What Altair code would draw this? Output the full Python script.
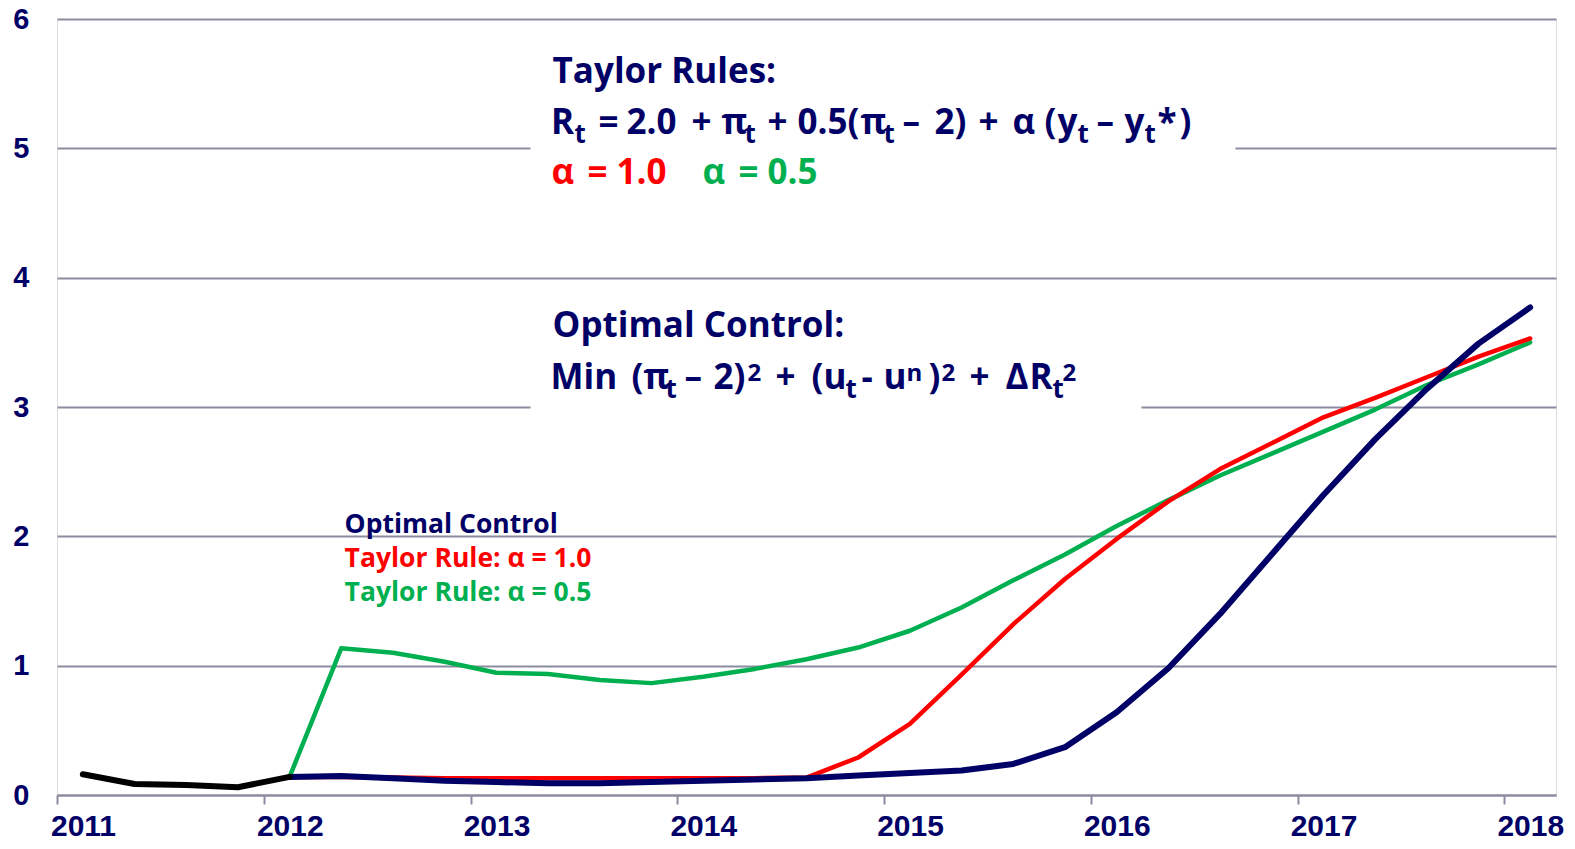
import altair as alt
import pandas as pd

# ---------------- data ----------------
quarters_hist = ["2011Q1", "2011Q2", "2011Q3", "2011Q4", "2012Q1"]
hist = [0.16, 0.085, 0.077, 0.06, 0.14]

quarters_fc = ["2012Q1", "2012Q2", "2012Q3", "2012Q4",
               "2013Q1", "2013Q2", "2013Q3", "2013Q4",
               "2014Q1", "2014Q2", "2014Q3", "2014Q4",
               "2015Q1", "2015Q2", "2015Q3", "2015Q4",
               "2016Q1", "2016Q2", "2016Q3", "2016Q4",
               "2017Q1", "2017Q2", "2017Q3", "2017Q4",
               "2018Q1"]
optimal = [0.14, 0.147, 0.13, 0.11,
           0.10, 0.09, 0.09, 0.10,
           0.11, 0.12, 0.13, 0.15,
           0.17, 0.19, 0.24, 0.37,
           0.64, 0.98, 1.40, 1.86,
           2.32, 2.75, 3.14, 3.49,
           3.77]
taylor_10 = [0.14, 0.14, 0.135, 0.13,
             0.13, 0.13, 0.13, 0.13,
             0.13, 0.13, 0.135, 0.29,
             0.55, 0.93, 1.32, 1.67,
             1.98, 2.27, 2.52, 2.72,
             2.92, 3.07, 3.23, 3.39,
             3.53]
taylor_05 = [0.14, 1.135, 1.10, 1.03,
             0.945, 0.935, 0.89, 0.865,
             0.915, 0.975, 1.05, 1.14,
             1.27, 1.45, 1.66, 1.86,
             2.08, 2.28, 2.47, 2.64,
             2.81, 2.98, 3.17, 3.33,
             3.50]

year_ticks = [2011, 2012, 2013, 2014, 2015, 2016, 2017, 2018]
y_ticks = [0, 1, 2, 3, 4, 5, 6]

NAVY = "#000066"
RED = "#FF0000"
GREEN = "#00B050"
GRID = "#8C8CA0"


def qpos(q):
    year, qq = q.split("Q")
    return int(year) + (int(qq) - 0.5) / 4.0


def frame(qs, vals):
    return pd.DataFrame({"x": [qpos(q) for q in qs], "y": vals, "q": qs})


df_hist = frame(quarters_hist, hist)
df_opt = frame(quarters_fc, optimal)
df_t10 = frame(quarters_fc, taylor_10)
df_t05 = frame(quarters_fc, taylor_05)

x_scale = alt.Scale(domain=[2011, 2018.25], nice=False, zero=False)
y_scale = alt.Scale(domain=[0, 6], nice=False, zero=True)

x_enc = alt.X("x:Q", scale=x_scale, title=None,
              axis=alt.Axis(values=year_ticks, format="d", grid=False,
                            labelFont="Liberation Sans", labelFontWeight="bold",
                            labelFontSize=30, labelColor=NAVY, labelOffset=26,
                            labelPadding=7, labelFlush=False, labelOverlap=False,
                            labelBound=False,
                            tickSize=9, tickColor=GRID, tickWidth=2,
                            domainColor=GRID, domainWidth=2))
y_enc = alt.Y("y:Q", scale=y_scale, title=None,
              axis=alt.Axis(values=y_ticks, format="d", grid=True, gridColor=GRID,
                            gridWidth=2, domain=False, ticks=False, labelPadding=28,
                            labelFont="Liberation Sans", labelFontWeight="bold",
                            labelFontSize=29, labelColor=NAVY, labelFlush=False))


def line(df, color, width):
    return alt.Chart(df).mark_line(color=color, strokeWidth=width,
                                   strokeCap="round", strokeJoin="round").encode(
        x=x_enc, y=y_enc, order="x:Q")


# white boxes behind the formula text boxes (hide grid lines)
box_x1 = [2013.29, 2013.29]
box_x2 = [2016.70, 2016.245]
box_y1 = [4.35, 2.75]
box_y2 = [5.80, 3.75]
df_box = pd.DataFrame({"x": box_x1, "x2": box_x2, "y": box_y1, "y2": box_y2})
boxes = alt.Chart(df_box).mark_rect(color="white").encode(
    x=alt.X("x:Q", scale=x_scale), x2="x2:Q",
    y=alt.Y("y:Q", scale=y_scale), y2="y2:Q")


# ---------------- annotation layout ----------------
# annotation anchors are read off the reference picture in pixels and
# converted to data units (x: years) with the chart's own geometry
def ax(px):
    return 2011 + (px - 57.3) / 206.8


MAIN, SUB, SUP = 35, 26, 24
N, L, H = 0, 1, 2          # normal, subscript, superscript
LEVEL_SIZE = {N: MAIN, L: SUB, H: SUP}
LEVEL_DY = {N: 0.0, L: -0.070, H: 0.062}   # baseline shift in value units

# Taylor-rule formula: tokens, left edges (reference px) and levels
f1_tok = ["R", "t", "=", "2.0", "+", "π", "t", "+", "0.5(", "π", "t", "–", "2)",
          "+", "α", "(", "y", "t", "–", "y", "t", "*", ")"]
f1_px = [551.5, 575, 599, 627, 692, 722, 745, 768, 798, 861, 884, 903, 935,
         979, 1013, 1045, 1058, 1078, 1097, 1125, 1145, 1158, 1180]
f1_lv = [N, L, N, N, N, N, L, N, N, N, L, N, N,
         N, N, N, N, L, N, N, L, N, N]
f1_base = 5.111

# Optimal-control objective
f2_tok = ["Min", "(", "π", "t", "–", "2)", "2", "+", "(", "u", "t", "-", "u", "n",
          ")", "2", "+", "Δ", "R", "t", "2"]
f2_px = [551, 632, 644, 666, 685, 714, 748, 776, 812, 824, 846, 862, 884, 907,
         929, 942, 970, 1006, 1030, 1053, 1063]
f2_lv = [N, N, N, L, N, N, H, N, N, N, L, N, N, H,
         N, H, N, N, N, L, H]
f2_base = 3.137

head_text = ["Taylor Rules:", "Optimal Control:"]
head_x = [2013.397, 2013.397]
head_y = [5.508, 3.544]

# alpha values line (red / green)
alpha_tok = ["α", "=", "1.0", "α", "=", "0.5"]
alpha_px = [552, 588, 617, 703, 739, 768]
alpha_col = [RED, RED, RED, GREEN, GREEN, GREEN]
alpha_base = 4.724

leg_text = ["Optimal Control", "Taylor Rule: α = 1.0", "Taylor Rule: α = 0.5"]
leg_x = [2012.391, 2012.391, 2012.391]
leg_y = [2.024, 1.761, 1.500]
leg_col = [NAVY, RED, GREEN]

FONT = "Open Sans"


def texts(txt, xs, ys, cols, sizes):
    df = pd.DataFrame({"t": txt, "x": xs, "y": ys, "c": cols, "s": sizes})
    return alt.Chart(df).mark_text(align="left", baseline="alphabetic", font=FONT,
                                   fontWeight="bold").encode(
        x=alt.X("x:Q", scale=x_scale), y=alt.Y("y:Q", scale=y_scale),
        text="t:N", color=alt.Color("c:N", scale=None),
        size=alt.Size("s:Q", scale=None))


def formula(tok, px, lv, base):
    return texts(tok, [ax(p) for p in px], [base + LEVEL_DY[v] for v in lv],
                 [NAVY] * len(tok), [LEVEL_SIZE[v] for v in lv])


t_f1 = formula(f1_tok, f1_px, f1_lv, f1_base)
t_f2 = formula(f2_tok, f2_px, f2_lv, f2_base)
t_head = texts(head_text, head_x, head_y, [NAVY] * 2, [MAIN] * 2)
t_alpha = texts(alpha_tok, [ax(p) for p in alpha_px], [alpha_base] * len(alpha_tok),
                alpha_col, [MAIN] * len(alpha_tok))
t_leg = texts(leg_text, leg_x, leg_y, leg_col, [26.5] * 3)

chart = alt.layer(
    boxes,
    line(df_t05, GREEN, 4.5),
    line(df_t10, RED, 4.5),
    line(df_opt, NAVY, 6),
    line(df_hist, "black", 6),
    t_head, t_f1, t_f2, t_alpha, t_leg,
).properties(
    width=1499, height=776,
    autosize=alt.AutoSizeParams(type="none"),
    padding={"left": 49, "top": 11, "right": 11, "bottom": 46},
).configure_view(strokeWidth=0).configure(background="white")

chart.save("out.html", embed_options={"renderer": "svg", "actions": False})
